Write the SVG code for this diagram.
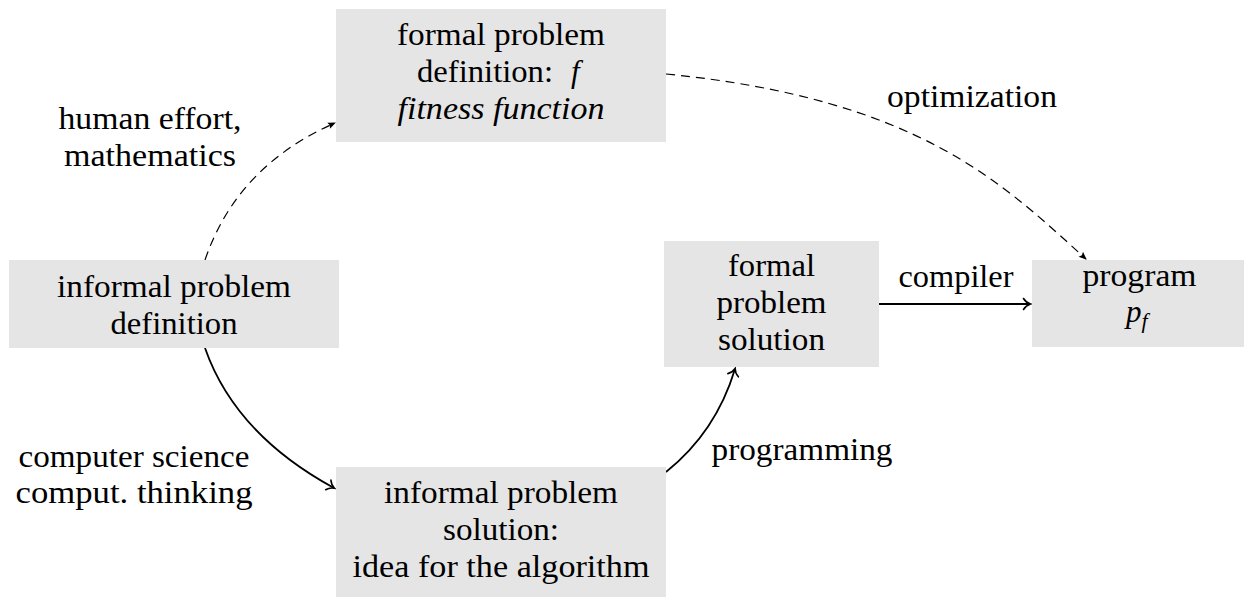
<svg xmlns="http://www.w3.org/2000/svg" width="1244" height="597" viewBox="0 0 1244 597">
<style>
.box{fill:#e5e5e5;stroke:none}
.t{font-family:'Liberation Serif','DejaVu Serif',serif;font-size:31px;fill:#000}
.c{text-anchor:middle}
.it{font-style:italic}
.solid{fill:none;stroke:#000;stroke-width:1.8}
.dash{fill:none;stroke:#000;stroke-width:1.2;stroke-dasharray:9 6}
</style>
<defs>
<marker id="to" markerUnits="userSpaceOnUse" orient="auto" refX="0" refY="0" markerWidth="20" markerHeight="20" viewBox="-10 -10 20 20" overflow="visible">
<path d="M-6.5,-5.5 C-4.5,-2.2 -1.5,-0.6 0.5,0 C-1.5,0.6 -4.5,2.2 -6.5,5.5" fill="none" stroke="#000" stroke-width="1.6" stroke-linecap="round"/>
</marker>
<marker id="stealth" markerUnits="userSpaceOnUse" orient="auto" refX="0" refY="0" markerWidth="20" markerHeight="20" viewBox="-10 -10 20 20" overflow="visible">
<path d="M1,0 L-7,-3.3 L-5.5,0 L-7,3.3 Z" fill="#000"/>
</marker>
</defs>

<g id="connectors">
<path class="dash" d="M205,260 Q237,166 335,123" marker-end="url(#stealth)"/>
<path class="dash" d="M666,74 C920,99 1003,184 1086,259" marker-end="url(#stealth)"/>
<path class="solid" d="M205,348 Q235,434 334,488" marker-end="url(#to)"/>
<path class="solid" d="M666,472 Q716,432 735,369" marker-end="url(#to)"/>
<path class="solid" d="M879,304 L1030,304" marker-end="url(#to)"/>
<text class="t c" x="150" y="129" textLength="183" lengthAdjust="spacingAndGlyphs">human effort,</text>
<text class="t c" x="150" y="166" textLength="172" lengthAdjust="spacingAndGlyphs">mathematics</text>
<text class="t c" x="972" y="107" textLength="170" lengthAdjust="spacingAndGlyphs">optimization</text>
<text class="t c" x="956" y="287" textLength="115" lengthAdjust="spacingAndGlyphs">compiler</text>
<text class="t c" x="802" y="460" textLength="181" lengthAdjust="spacingAndGlyphs">programming</text>
<text class="t c" x="134" y="467" textLength="231" lengthAdjust="spacingAndGlyphs">computer science</text>
<text class="t c" x="134" y="503" textLength="237" lengthAdjust="spacingAndGlyphs">comput. thinking</text>
</g>

<g id="formal-problem-definition">
<rect class="box" x="336" y="9" width="330" height="133"/>
<text class="t c" x="501" y="45" textLength="208" lengthAdjust="spacingAndGlyphs">formal problem</text>
<text class="t" x="417" y="82" textLength="136" lengthAdjust="spacingAndGlyphs">definition:</text>
<text class="t it" x="571" y="82">f</text>
<text class="t c it" x="501" y="119" textLength="207" lengthAdjust="spacingAndGlyphs">fitness function</text>
</g>

<g id="informal-problem-definition">
<rect class="box" x="9" y="260" width="330" height="88"/>
<text class="t c" x="174" y="297" textLength="234" lengthAdjust="spacingAndGlyphs">informal problem</text>
<text class="t c" x="174" y="334" textLength="127" lengthAdjust="spacingAndGlyphs">definition</text>
</g>

<g id="informal-problem-solution">
<rect class="box" x="336" y="467" width="330" height="130"/>
<text class="t c" x="501" y="503" textLength="234" lengthAdjust="spacingAndGlyphs">informal problem</text>
<text class="t c" x="501" y="540" textLength="116" lengthAdjust="spacingAndGlyphs">solution:</text>
<text class="t c" x="501" y="577" textLength="297" lengthAdjust="spacingAndGlyphs">idea for the algorithm</text>
</g>

<g id="formal-problem-solution">
<rect class="box" x="664" y="241" width="215" height="126"/>
<text class="t c" x="771.5" y="276" textLength="87" lengthAdjust="spacingAndGlyphs">formal</text>
<text class="t c" x="771.5" y="313" textLength="110" lengthAdjust="spacingAndGlyphs">problem</text>
<text class="t c" x="771.5" y="350" textLength="107" lengthAdjust="spacingAndGlyphs">solution</text>
</g>

<g id="program">
<rect class="box" x="1032" y="260" width="215" height="87"/>
<text class="t c" x="1139.5" y="286" textLength="114" lengthAdjust="spacingAndGlyphs">program</text>
<text class="t it" x="1126" y="322">p<tspan font-size="22" dy="6">f</tspan></text>
</g>
</svg>
